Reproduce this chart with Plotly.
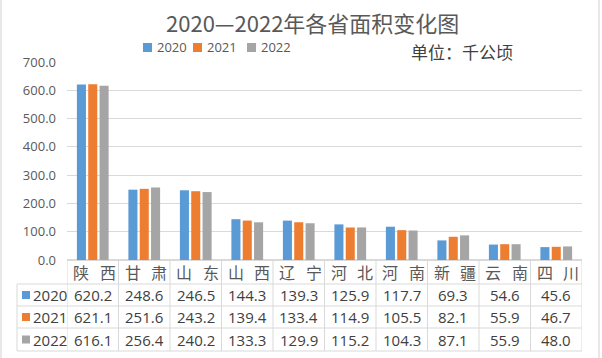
import plotly.graph_objects as go

provinces = ["陕西", "甘肃", "山东", "山西", "辽宁", "河北", "河南", "新疆", "云南", "四川"]
years = ["2020", "2021", "2022"]
v2020 = [620.2, 248.6, 246.5, 144.3, 139.3, 125.9, 117.7, 69.3, 54.6, 45.6]
v2021 = [621.1, 251.6, 243.2, 139.4, 133.4, 114.9, 105.5, 82.1, 55.9, 46.7]
v2022 = [616.1, 256.4, 240.2, 133.3, 129.9, 115.2, 104.3, 87.1, 55.9, 48.0]
series = [v2020, v2021, v2022]
colors = ["#5B9BD5", "#ED7D31", "#A5A5A5"]
y_ticks = [0, 100, 200, 300, 400, 500, 600, 700]

W, H = 602, 358
L, R, T, B = 67, 582, 62, 260  # plot area in px
pw, ph = R - L, B - T

def px_x(px):
    return (px - L) / pw

def px_y(py):
    return (B - py) / ph

CJK = "Noto Sans CJK SC"
TXT = "#595959"
GRID = "#D9D9D9"

fig = go.Figure()
for name, vals, c in zip(years, series, colors):
    fig.add_trace(go.Bar(x=provinces, y=vals, name=name, marker_color=c,
                         marker_line_width=0, showlegend=False))

shapes = []
ann = []

def text(x, y, s, size, color, family, xanchor="center", xref="paper", xshift=0):
    ann.append(dict(x=x, y=y, xref=xref, yref="paper", text=s, showarrow=False,
                    xanchor=xanchor, yanchor="middle", xshift=xshift,
                    font=dict(family=family, size=size, color=color)))

n = len(provinces)
for k in range(n + 1):
    shapes.append(dict(type="line", xref="x", yref="paper", x0=k - 0.5, x1=k - 0.5,
                       y0=px_y(260), y1=px_y(351), line=dict(color=GRID, width=1)))
shapes.append(dict(type="line", xref="paper", yref="paper", x0=px_x(17), x1=px_x(17),
                   y0=px_y(284), y1=px_y(351), line=dict(color=GRID, width=1)))
for py in [284, 306, 328, 351]:
    shapes.append(dict(type="line", xref="paper", yref="paper", x0=px_x(17), x1=1,
                       y0=px_y(py), y1=px_y(py), line=dict(color=GRID, width=1)))
for pxv in [1, 599]:
    shapes.append(dict(type="line", xref="paper", yref="paper", x0=px_x(pxv), x1=px_x(pxv),
                       y0=px_y(0), y1=px_y(358), line=dict(color="#D0D0D0", width=1)))

# header labels (justified within the cell)
for i, p in enumerate(provinces):
    text(i - 0.5, px_y(272), p[0], 16, TXT, CJK, xanchor="left", xref="x", xshift=4)
    text(i + 0.5, px_y(272), p[1], 16, TXT, CJK, xanchor="right", xref="x", xshift=-1)

row_centers = [295, 317, 339.5]
for r, (name, vals, c) in enumerate(zip(years, series, colors)):
    cy = row_centers[r]
    shapes.append(dict(type="rect", xref="paper", yref="paper", x0=px_x(22), x1=px_x(30),
                       y0=px_y(cy + 4), y1=px_y(cy - 4), fillcolor=c, line=dict(width=0)))
    text(px_x(31), px_y(cy), name, 15, "#404040", "Open Sans", xanchor="left")
    for i, v in enumerate(vals):
        text(i, px_y(cy), f"{v:.1f}", 15, "#404040", "Open Sans", xref="x")

leg_sq = [143, 193, 247]
for name, c, sx in zip(years, colors, leg_sq):
    shapes.append(dict(type="rect", xref="paper", yref="paper", x0=px_x(sx), x1=px_x(sx + 9),
                       y0=px_y(52), y1=px_y(43), fillcolor=c, line=dict(width=0)))
    text(px_x(sx + 12), px_y(47.5), name, 13, TXT, "Open Sans", xanchor="left")

text(px_x(312), px_y(22), "2020—2022年各省面积变化图", 22, TXT, CJK)
text(px_x(462), px_y(52), "单位：千公顷", 17, "#404040", CJK)

fig.update_layout(
    width=W, height=H,
    margin=dict(l=L, r=W - R, t=T, b=H - B, pad=0),
    paper_bgcolor="white", plot_bgcolor="white",
    barmode="group", bargap=0.34, bargroupgap=0.2,
    shapes=shapes, annotations=ann, showlegend=False,
    xaxis=dict(range=[-0.5, n - 0.5], showticklabels=False, showgrid=False,
               showline=False, zeroline=False, ticks=""),
    yaxis=dict(range=[0, 700], tickvals=y_ticks, tickformat=".1f", showgrid=True,
               gridcolor=GRID, gridwidth=1, zeroline=True, zerolinecolor=GRID,
               showline=False, ticks="", ticklen=0, ticklabelstandoff=10,
               tickfont=dict(family="Open Sans", size=13, color=TXT)),
)

fig.write_html("out.html", config={"displayModeBar": False},
               post_script="document.body.style.margin='0';document.body.style.padding='0';")
